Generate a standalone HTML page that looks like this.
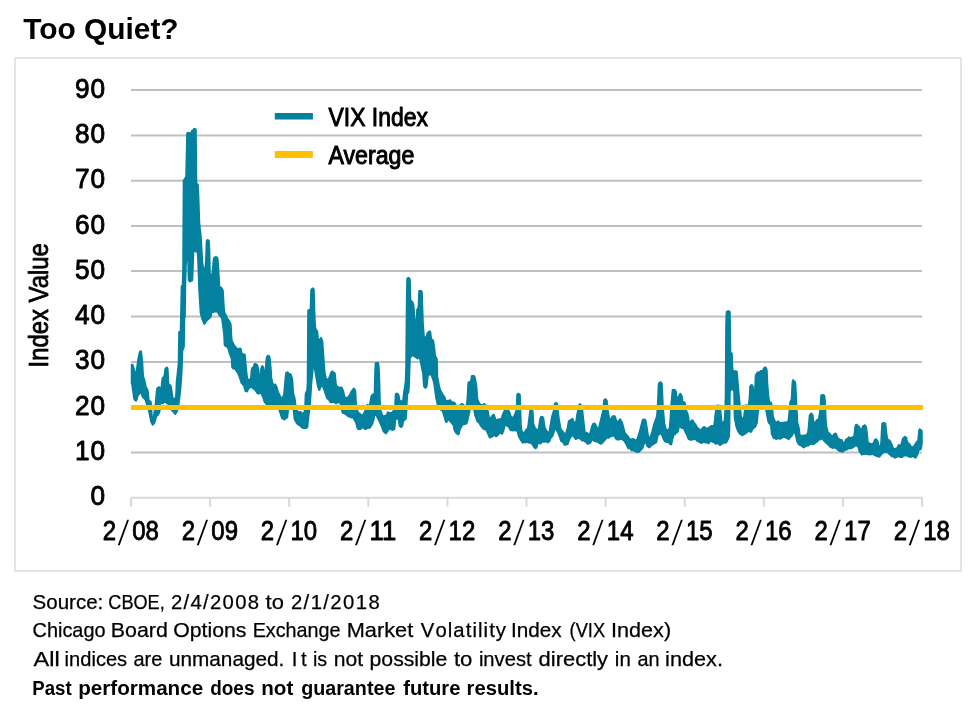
<!DOCTYPE html>
<html lang="en"><head><meta charset="utf-8"><title>Too Quiet?</title>
<style>html,body{margin:0;padding:0;background:#fff}body{width:975px;height:714px;overflow:hidden}</style></head>
<body>
<svg width="975" height="714" viewBox="0 0 975 714" style="display:block">
<rect width="975" height="714" fill="#fff"/>
<rect x="15" y="58" width="946" height="513" fill="#fff" stroke="#e4e4e4" stroke-width="2"/>
<line x1="131.0" x2="922" y1="452.5" y2="452.5" stroke="#bfbfbf" stroke-width="2"/>
<line x1="131.0" x2="922" y1="407.2" y2="407.2" stroke="#bfbfbf" stroke-width="2"/>
<line x1="131.0" x2="922" y1="361.9" y2="361.9" stroke="#bfbfbf" stroke-width="2"/>
<line x1="131.0" x2="922" y1="316.6" y2="316.6" stroke="#bfbfbf" stroke-width="2"/>
<line x1="131.0" x2="922" y1="271.0" y2="271.0" stroke="#bfbfbf" stroke-width="2"/>
<line x1="131.0" x2="922" y1="226.0" y2="226.0" stroke="#bfbfbf" stroke-width="2"/>
<line x1="131.0" x2="922" y1="180.7" y2="180.7" stroke="#bfbfbf" stroke-width="2"/>
<line x1="131.0" x2="922" y1="135.4" y2="135.4" stroke="#bfbfbf" stroke-width="2"/>
<line x1="131.0" x2="922" y1="90.0" y2="90.0" stroke="#bfbfbf" stroke-width="2"/>
<line x1="131.0" x2="922.6" y1="497.85" y2="497.85" stroke="#d9d9d9" stroke-width="2"/>
<line x1="131.0" x2="131.0" y1="497.85" y2="506.8" stroke="#d9d9d9" stroke-width="2"/>
<line x1="210.1" x2="210.1" y1="497.85" y2="506.8" stroke="#d9d9d9" stroke-width="2"/>
<line x1="289.2" x2="289.2" y1="497.85" y2="506.8" stroke="#d9d9d9" stroke-width="2"/>
<line x1="368.3" x2="368.3" y1="497.85" y2="506.8" stroke="#d9d9d9" stroke-width="2"/>
<line x1="447.4" x2="447.4" y1="497.85" y2="506.8" stroke="#d9d9d9" stroke-width="2"/>
<line x1="526.5" x2="526.5" y1="497.85" y2="506.8" stroke="#d9d9d9" stroke-width="2"/>
<line x1="605.6" x2="605.6" y1="497.85" y2="506.8" stroke="#d9d9d9" stroke-width="2"/>
<line x1="684.7" x2="684.7" y1="497.85" y2="506.8" stroke="#d9d9d9" stroke-width="2"/>
<line x1="763.8" x2="763.8" y1="497.85" y2="506.8" stroke="#d9d9d9" stroke-width="2"/>
<line x1="842.9" x2="842.9" y1="497.85" y2="506.8" stroke="#d9d9d9" stroke-width="2"/>
<line x1="922.0" x2="922.0" y1="497.85" y2="506.8" stroke="#d9d9d9" stroke-width="2"/>
<path d="M131.3,385.0 133.2,398.8 133.8,400.3 135.7,401.7 136.3,401.7 136.6,401.6 137.8,399.6 138.8,395.4 139.6,394.9 140.5,393.8 140.8,394.0 141.8,397.2 142.4,398.0 143.3,398.7 144.7,400.6 148.2,411.7 150.2,422.0 151.9,425.2 152.4,425.7 153.0,425.8 153.5,425.5 155.2,423.3 157.2,416.7 158.8,415.3 160.2,412.7 160.8,409.7 161.3,403.9 161.4,403.7 162.4,404.3 163.1,404.3 163.7,403.9 164.7,402.8 164.9,402.8 166.0,403.7 167.3,404.4 169.3,406.9 171.2,411.0 172.9,412.5 174.7,414.9 175.3,415.1 175.8,414.9 176.8,413.2 177.7,412.2 178.3,410.5 179.8,402.3 181.3,390.1 182.3,376.8 182.8,366.7 183.3,351.1 184.8,347.0 185.3,318.5 185.8,317.1 186.3,281.7 186.8,265.5 187.2,260.4 187.7,280.2 187.9,280.8 188.9,281.8 189.7,282.4 190.3,282.4 191.4,281.8 192.3,281.6 193.0,280.8 193.3,280.1 194.3,252.0 195.2,252.4 196.6,252.4 196.7,252.6 197.2,260.4 198.2,289.3 199.7,313.2 201.7,320.3 203.6,324.6 204.2,324.9 204.8,324.8 205.2,324.4 206.7,322.0 207.5,321.0 208.2,320.6 209.5,319.2 211.2,317.9 211.8,316.4 212.3,312.9 212.8,313.2 213.4,313.1 214.8,312.4 216.8,312.5 219.2,316.5 220.7,317.8 221.2,319.6 222.7,330.6 223.2,335.4 223.7,345.3 225.1,347.1 226.7,347.6 227.3,348.4 229.2,354.9 230.7,358.5 231.2,367.4 232.7,369.3 233.4,369.6 234.0,369.5 234.5,369.8 237.2,373.6 238.2,376.1 240.7,383.4 241.2,384.1 242.6,385.4 243.2,386.3 244.7,391.7 245.2,392.1 245.9,392.0 246.7,392.4 247.3,392.4 247.8,392.0 248.2,391.4 249.3,389.1 249.9,388.4 250.6,388.4 251.8,388.0 252.4,389.3 252.8,389.5 253.8,389.8 256.9,394.0 257.9,394.6 258.7,394.7 259.1,394.6 260.4,393.8 260.8,394.4 262.2,397.5 263.7,402.4 264.3,403.3 265.4,404.2 266.9,406.0 267.8,406.7 268.4,406.8 269.5,406.2 270.6,406.6 271.6,407.5 272.2,407.6 272.7,407.4 273.5,406.6 273.7,406.5 274.8,408.0 275.3,408.2 276.2,408.1 276.5,408.3 278.1,409.9 278.7,411.0 281.2,418.8 283.9,420.5 284.4,420.5 285.0,420.3 285.8,419.6 288.0,418.0 288.2,417.7 288.8,411.7 289.2,409.7 290.2,408.4 291.8,407.7 292.7,410.7 293.7,419.4 295.7,423.2 296.7,424.5 298.4,425.7 299.6,426.3 301.0,427.9 302.2,428.4 302.9,428.9 306.6,428.9 307.8,428.1 308.3,427.2 309.3,417.4 310.8,406.2 312.3,383.6 313.8,368.4 316.7,385.3 317.7,389.0 318.3,390.5 318.5,390.8 319.1,390.9 319.7,390.7 320.2,390.3 321.9,386.4 323.7,390.9 325.2,396.0 326.2,398.6 326.9,399.4 327.5,399.7 328.2,400.2 329.3,402.0 330.1,403.1 330.9,403.5 332.4,402.9 333.7,403.1 334.7,403.5 335.5,404.2 336.0,404.4 336.6,404.2 337.5,403.4 338.0,403.1 339.2,403.6 339.7,404.0 340.2,404.9 341.2,411.4 341.7,413.3 342.1,413.7 342.9,413.8 344.1,414.2 346.3,415.8 347.5,417.1 350.1,418.0 351.2,418.6 352.6,418.5 354.2,421.2 354.8,422.0 355.2,423.1 356.3,427.4 356.8,428.7 357.8,429.9 358.9,430.2 361.1,429.7 362.6,428.2 363.1,428.5 364.4,429.8 365.1,430.2 367.0,429.5 368.3,428.7 369.7,428.9 370.3,428.6 370.8,428.0 372.3,425.8 373.3,423.7 374.8,419.0 375.2,415.4 375.8,416.2 378.2,420.7 379.7,424.4 380.8,426.4 382.6,431.7 385.3,434.3 386.1,434.4 386.6,434.1 387.8,432.6 389.4,429.9 389.8,429.8 391.0,430.5 392.4,430.9 393.3,430.7 395.1,429.7 395.4,429.1 396.3,420.2 396.7,419.5 397.1,419.5 397.6,419.7 397.8,420.0 398.7,426.4 399.2,426.9 400.0,427.3 400.6,427.9 400.9,428.0 401.6,427.9 403.3,426.2 403.8,422.7 404.2,421.5 405.0,420.5 405.8,420.3 406.3,420.0 406.8,418.4 407.3,412.9 407.8,400.7 408.3,394.0 409.1,393.1 409.3,392.6 409.8,388.6 410.8,358.4 412.1,356.7 412.9,356.3 413.9,357.2 415.5,358.1 417.1,359.6 417.9,359.5 418.9,358.6 419.0,358.7 419.7,361.6 421.2,369.4 422.2,373.8 422.7,382.8 423.2,386.7 423.4,387.3 425.0,388.8 425.5,388.9 426.1,388.7 427.7,386.3 428.8,375.8 430.2,375.4 430.7,375.5 432.2,379.7 433.2,383.3 435.2,397.9 436.7,404.5 437.2,406.0 438.2,408.0 439.2,409.5 440.5,410.7 441.3,411.0 441.8,411.6 443.7,417.4 444.8,421.8 445.4,422.5 445.9,422.9 446.9,423.0 447.4,422.6 448.4,420.6 449.2,421.8 450.4,422.7 451.7,424.6 452.7,425.4 453.2,428.9 453.7,430.7 455.2,433.3 456.2,434.3 457.2,434.7 458.2,435.5 459.1,435.3 459.4,434.8 460.7,430.1 462.7,426.0 463.4,425.3 465.1,425.1 466.5,424.6 467.6,423.5 468.3,421.1 470.7,410.2 472.8,408.1 474.2,415.2 476.6,422.1 477.0,422.6 478.1,422.9 478.4,423.2 480.2,426.6 482.7,429.5 484.1,430.2 485.2,430.2 485.4,430.3 488.7,437.5 489.4,438.4 490.2,438.5 490.9,438.1 491.8,437.8 493.6,436.7 494.5,435.9 495.5,437.2 496.4,437.2 498.3,436.1 499.6,434.3 500.1,433.9 500.8,434.1 501.6,434.8 502.4,434.8 502.8,434.3 503.3,433.5 504.3,431.1 505.3,426.9 505.7,425.9 506.9,426.8 508.1,427.5 509.3,430.1 510.1,431.0 512.4,431.5 514.2,431.2 515.4,431.4 516.3,431.2 516.7,432.0 517.8,436.4 520.2,440.8 522.1,443.5 522.6,443.7 523.2,443.6 523.8,443.3 525.2,443.5 526.7,442.9 527.4,443.0 528.7,443.7 529.5,443.5 530.2,443.7 531.4,444.5 533.2,447.4 534.4,448.8 535.2,449.2 536.6,448.8 537.2,448.4 537.8,446.8 538.3,444.1 539.1,444.3 540.8,444.4 541.4,444.1 542.7,442.4 542.9,442.4 543.8,443.1 544.3,443.1 545.6,442.2 547.1,443.3 547.8,443.5 550.0,442.1 550.4,441.6 551.7,438.1 552.7,437.2 553.3,436.4 555.2,430.7 555.6,430.1 556.7,431.9 557.2,433.0 558.7,436.8 560.2,441.2 561.0,442.2 562.0,442.6 562.8,443.6 563.7,445.3 564.6,445.9 565.2,445.8 566.7,445.3 567.8,445.2 568.3,444.9 570.2,439.7 572.1,436.4 573.5,437.5 574.7,439.4 575.3,439.9 576.2,440.0 577.4,439.2 577.9,439.0 578.4,439.0 578.9,439.3 579.8,439.4 580.4,439.9 581.5,441.2 581.9,441.4 583.5,441.5 585.9,443.2 587.2,444.7 588.0,444.9 589.4,444.3 590.3,444.1 590.8,443.7 591.3,443.1 592.6,440.6 594.0,441.9 595.0,442.3 596.2,442.3 598.2,443.2 599.5,444.3 600.6,444.8 601.4,444.7 601.8,444.5 604.2,442.3 607.0,438.7 607.3,438.6 608.3,438.8 608.9,438.8 611.4,437.0 612.6,437.0 613.5,436.6 613.9,436.9 615.2,439.3 616.0,440.0 618.1,440.7 619.3,440.2 621.2,439.7 623.4,441.3 623.8,441.8 625.7,444.9 627.2,448.6 627.8,449.2 628.5,449.3 629.2,449.1 629.9,449.6 630.4,450.5 631.3,451.2 633.0,451.2 633.7,451.5 635.4,452.6 636.5,452.8 637.0,452.7 638.4,453.2 639.0,452.9 640.1,451.7 641.8,450.4 643.7,447.7 645.1,443.2 646.8,446.9 648.8,448.2 649.3,448.4 649.9,448.2 650.3,447.9 651.4,446.4 652.6,445.8 654.0,444.7 654.8,444.3 656.9,442.9 657.3,442.2 658.3,437.2 658.7,435.8 660.4,434.4 661.2,435.5 662.7,439.4 664.2,442.0 664.9,442.5 665.9,442.7 666.9,443.2 668.3,443.1 669.3,444.7 669.7,445.0 671.1,445.5 671.7,445.3 672.1,444.8 672.3,444.2 673.3,439.5 674.4,435.7 674.7,435.3 675.1,435.2 675.7,434.9 677.0,433.2 678.0,432.9 678.4,432.5 678.8,431.6 679.9,427.0 680.3,427.8 681.1,428.9 681.7,429.1 682.6,428.9 683.3,429.5 684.7,432.8 686.3,435.7 687.3,438.5 687.8,439.6 688.3,440.0 689.2,440.2 690.2,440.8 690.7,441.0 691.8,440.6 693.3,440.6 694.7,439.8 695.2,440.1 695.9,441.1 696.8,441.8 698.7,442.6 700.0,443.6 701.0,444.0 702.1,443.8 703.0,443.3 703.8,443.1 705.5,443.6 706.9,443.5 708.2,444.2 708.7,444.2 709.6,443.7 710.6,442.1 710.9,441.8 711.9,442.7 713.1,442.9 713.5,443.1 715.2,444.7 715.8,444.8 716.4,444.6 716.7,444.2 717.5,444.3 718.3,444.7 719.6,445.9 720.5,446.1 721.0,445.8 722.4,444.4 723.4,444.0 724.5,443.6 725.1,443.8 726.1,443.8 726.6,443.4 728.2,441.1 729.8,437.6 730.3,431.1 730.8,391.5 731.1,391.0 732.0,390.3 732.9,390.9 733.2,391.4 733.7,417.8 735.2,425.7 735.7,427.8 736.2,429.1 737.2,431.4 738.7,434.0 739.9,435.1 742.0,436.3 742.9,436.2 743.7,435.4 745.3,434.7 748.8,432.1 749.5,432.3 750.4,433.0 751.2,433.0 751.7,432.6 753.2,429.9 754.2,428.6 754.6,428.2 755.5,428.0 755.9,427.6 757.8,423.2 758.8,412.7 759.2,410.0 759.5,409.5 759.9,409.3 761.2,409.5 762.6,410.0 764.6,410.0 764.9,410.1 765.2,410.8 765.7,412.8 767.2,421.2 768.1,423.4 769.8,425.0 770.2,427.5 770.8,433.9 772.7,438.3 773.3,439.0 773.9,439.2 774.7,439.1 775.5,440.0 776.2,440.2 777.9,439.2 778.4,439.2 779.4,439.8 780.1,439.8 781.8,439.0 783.1,438.1 784.9,438.1 786.3,439.1 787.6,439.4 788.5,440.1 789.1,440.1 789.7,439.8 790.7,438.1 793.1,435.7 793.7,433.8 793.9,433.7 794.8,434.8 796.2,441.5 796.7,442.7 798.8,445.7 800.2,446.1 801.1,446.5 802.9,448.2 803.3,448.4 804.3,448.2 805.9,446.9 807.1,446.7 807.6,446.5 808.5,446.5 808.9,446.4 810.0,445.1 810.5,444.7 811.2,444.7 813.1,445.2 815.0,444.5 816.4,443.1 817.7,442.6 819.1,440.4 820.5,440.4 822.0,439.4 822.2,439.5 822.8,440.7 823.7,441.8 824.5,442.4 825.7,443.8 826.9,444.6 830.1,448.1 831.7,448.5 832.8,449.0 833.5,448.9 834.4,448.2 835.2,448.9 836.4,449.5 838.2,451.4 840.0,451.9 841.2,452.6 842.9,452.7 843.7,452.3 844.8,451.2 845.6,450.7 847.2,450.4 848.9,449.3 850.9,449.3 853.0,448.6 856.0,446.2 857.3,447.2 858.8,451.9 859.8,453.2 861.1,455.2 861.6,455.6 862.2,455.6 863.3,455.1 865.3,454.7 865.9,454.9 867.2,454.9 868.5,455.3 869.9,455.4 872.4,455.1 874.5,455.9 875.8,456.7 879.2,457.8 879.6,457.8 880.1,457.4 881.3,455.7 883.1,454.1 884.0,453.0 884.4,452.8 885.1,453.2 885.6,453.3 886.6,452.9 887.0,453.1 887.9,454.1 889.9,455.7 891.3,457.3 891.8,457.5 892.9,457.3 894.0,458.3 894.7,458.7 895.4,458.6 897.0,458.0 898.3,457.0 899.8,457.9 902.3,457.9 902.9,457.7 903.9,456.6 905.0,456.6 906.3,456.4 906.9,456.5 908.4,457.5 910.5,458.0 913.0,457.2 915.0,458.6 915.6,458.8 916.2,458.6 916.7,458.0 918.3,454.8 918.8,453.4 919.3,450.8 920.8,450.3 921.7,449.4 922.3,446.7 922.8,442.9 922.7,430.4 922.4,429.8 922.1,429.7 921.2,429.6 920.6,428.6 919.8,428.2 919.0,428.6 918.2,430.3 917.2,440.3 915.7,441.7 913.4,445.4 912.8,445.9 912.3,446.2 911.9,446.1 911.5,445.8 910.1,443.6 908.4,442.0 907.8,440.6 907.3,437.5 907.1,437.0 904.7,435.8 904.1,436.0 903.4,437.0 902.4,437.6 902.1,438.0 900.2,444.7 899.1,443.9 898.5,443.9 897.8,444.5 897.2,445.9 896.3,447.5 894.6,448.0 893.9,447.8 892.3,443.5 890.7,440.5 890.0,439.6 888.5,439.1 888.2,438.5 887.3,432.7 886.3,423.2 885.9,422.7 885.4,422.4 883.6,421.9 882.1,422.5 881.5,423.1 881.2,423.8 880.2,442.8 879.8,445.2 879.3,445.0 879.2,444.8 878.8,441.8 878.3,440.6 876.9,438.7 876.4,438.3 875.7,438.3 874.3,439.0 873.8,440.0 872.8,442.6 872.6,442.8 871.1,443.3 869.6,442.3 868.8,442.3 867.8,432.4 867.3,428.4 866.8,426.3 865.4,424.5 864.9,424.2 864.2,424.3 863.5,424.9 862.2,425.5 861.7,426.5 861.0,428.8 859.8,425.9 858.5,425.2 857.2,423.8 856.7,423.7 856.3,423.7 855.2,424.3 854.7,425.1 854.2,427.6 853.7,432.8 853.2,436.1 852.1,436.6 850.3,437.0 849.0,436.2 848.1,436.5 846.6,438.5 845.8,438.4 845.2,438.7 844.2,441.5 843.7,442.1 842.8,439.9 842.2,439.1 841.7,438.9 840.6,438.9 838.3,437.2 837.8,436.1 836.8,433.3 836.4,432.7 835.8,432.5 834.3,432.9 833.3,433.6 832.4,435.0 832.1,435.2 830.4,432.9 830.0,432.5 829.1,432.3 828.7,431.9 827.3,426.3 826.8,421.2 825.8,399.8 825.3,395.8 825.1,395.3 824.1,394.1 823.1,393.9 822.1,394.2 821.3,394.2 820.6,394.7 820.2,395.2 819.7,405.1 819.2,410.3 818.2,417.3 817.8,418.5 816.2,419.5 814.3,422.0 813.8,416.3 813.4,414.6 811.7,412.6 811.1,412.4 810.4,412.7 808.8,415.0 808.7,415.3 807.7,427.4 807.1,432.4 805.8,434.4 804.4,434.2 803.2,434.8 802.1,434.8 801.5,434.9 801.0,434.8 800.7,434.4 800.3,432.1 799.8,428.2 799.3,425.7 798.3,422.7 796.3,383.1 795.7,381.2 794.6,380.4 793.9,379.4 793.4,379.1 792.5,379.5 791.7,380.7 791.2,388.6 790.7,399.3 789.8,400.7 789.2,402.8 788.7,409.8 787.7,418.6 787.3,421.3 785.9,421.2 785.1,421.6 783.8,421.5 782.6,421.9 781.3,421.9 780.5,422.1 780.1,421.9 778.6,420.5 778.0,420.3 777.4,420.5 776.4,421.6 776.2,421.6 775.7,420.9 774.8,418.5 774.2,417.5 773.8,415.4 773.3,409.7 772.8,405.7 772.3,403.4 771.5,401.8 771.1,401.5 770.3,401.5 769.8,399.3 769.3,396.1 768.3,383.8 767.8,371.3 767.2,368.1 765.9,366.5 765.3,366.4 764.7,366.5 763.7,367.2 763.2,367.8 762.4,369.4 762.0,369.9 760.4,370.1 759.1,371.4 758.1,371.3 757.4,371.5 756.3,372.6 755.2,374.4 754.7,375.7 754.1,389.8 753.8,386.7 753.2,385.1 752.6,384.5 751.6,384.1 750.8,384.2 750.2,384.7 749.3,386.0 749.2,386.5 748.7,397.5 747.8,404.6 747.8,404.8 746.8,404.4 746.3,404.3 745.2,404.6 744.7,405.1 742.8,417.7 742.2,416.9 741.8,415.0 740.8,405.8 739.3,389.8 737.8,371.5 737.7,371.1 737.2,370.7 736.1,370.5 735.3,370.1 734.5,370.2 733.7,370.6 733.7,370.5 733.3,367.0 732.8,353.6 732.7,353.1 731.5,352.1 731.3,351.7 730.8,312.0 730.6,311.4 729.8,310.6 729.2,310.3 728.2,310.2 726.4,310.8 725.9,311.2 725.7,311.8 725.2,322.9 724.7,396.6 724.2,411.9 723.7,420.3 722.7,421.9 722.3,419.8 721.3,409.9 720.7,406.4 720.2,405.3 718.8,404.4 717.5,404.4 716.6,404.6 716.1,405.0 715.7,406.5 714.7,412.5 713.7,421.7 713.2,424.7 712.9,424.9 710.9,425.0 710.6,425.2 709.1,426.6 707.6,427.2 706.9,427.7 706.0,427.3 705.1,426.2 704.2,426.0 702.5,426.8 701.0,428.8 700.7,429.1 700.2,429.1 698.6,427.4 697.6,426.5 696.2,423.7 694.6,422.2 693.5,419.8 693.1,419.4 692.6,419.2 691.8,419.4 690.7,420.2 689.9,421.2 689.8,421.1 688.8,414.7 688.3,412.9 687.3,410.7 686.8,409.0 686.3,404.7 685.3,401.8 685.0,401.5 683.3,400.9 682.8,396.6 682.2,394.7 681.0,393.0 680.5,392.7 679.9,392.7 679.3,393.3 677.6,397.0 676.8,391.0 676.6,390.5 674.7,388.8 672.4,388.9 671.9,389.2 671.7,389.7 671.2,394.4 670.2,406.2 669.7,415.7 668.7,427.8 668.3,428.4 667.1,429.5 666.3,427.3 665.3,423.8 663.8,406.2 662.8,383.4 662.6,382.9 661.2,381.5 660.6,381.2 660.3,381.2 658.3,382.5 657.7,384.7 656.7,407.8 656.2,413.8 655.7,417.0 653.2,423.7 650.7,433.8 649.2,437.1 646.7,421.0 646.3,420.0 645.6,419.1 644.5,418.6 643.7,418.8 643.0,418.6 642.2,419.0 641.7,420.0 638.7,431.7 637.7,435.1 636.2,439.3 636.1,439.4 635.4,438.9 633.2,438.0 632.3,438.1 631.0,438.6 630.0,438.0 628.7,436.0 625.7,432.5 622.8,421.7 621.8,420.4 620.8,418.5 620.2,418.2 619.6,418.3 618.2,420.2 617.7,420.5 617.2,420.7 616.3,417.4 615.7,416.0 614.8,415.2 613.5,414.9 612.4,415.4 611.9,415.8 610.2,418.6 608.8,411.3 607.8,400.7 607.6,400.1 606.1,398.4 605.5,398.1 605.2,398.1 604.6,398.4 603.5,399.5 603.2,400.1 602.2,410.3 598.0,427.7 598.0,427.8 596.7,424.9 595.1,422.5 594.8,422.4 594.2,422.4 592.7,423.1 592.2,423.7 591.2,425.8 589.1,433.5 587.3,431.9 586.8,431.8 585.8,431.8 585.7,431.7 585.3,429.1 583.3,410.3 582.8,407.3 582.3,405.0 581.3,404.2 580.5,403.2 580.0,403.1 579.2,403.4 578.4,404.1 578.2,404.7 577.2,410.1 576.2,414.4 575.3,421.0 575.1,421.4 574.8,421.4 574.4,420.9 573.2,418.1 572.7,417.8 572.1,417.8 571.1,418.7 568.5,420.1 568.2,420.6 567.7,422.1 566.7,427.5 565.3,432.4 565.0,432.7 564.3,432.2 562.8,429.9 561.7,429.0 561.3,427.5 559.8,418.9 557.8,403.2 557.2,402.2 556.2,401.9 555.7,402.0 555.2,402.3 554.0,403.5 553.7,404.1 553.2,408.7 552.7,411.3 551.2,416.0 550.7,418.4 548.7,430.4 548.3,431.7 547.2,430.3 545.8,427.8 545.3,425.4 544.3,418.1 543.7,416.8 542.8,415.9 540.9,415.8 540.3,416.2 540.1,416.5 539.2,419.1 537.7,429.3 536.1,427.8 535.7,427.2 534.3,423.7 533.8,413.4 533.3,409.9 532.8,409.2 531.8,409.0 529.9,409.3 529.5,409.7 529.2,410.4 527.2,426.5 526.8,428.0 525.7,429.0 524.2,431.2 523.2,431.9 522.3,429.5 521.8,424.9 520.8,394.7 520.6,394.1 518.8,392.7 518.5,392.6 517.9,392.8 516.5,394.0 516.2,394.4 515.7,409.5 514.2,413.8 513.1,416.2 512.6,416.5 512.1,416.5 511.7,416.0 510.3,412.0 509.8,410.8 509.4,410.2 507.9,409.3 505.9,408.9 505.4,409.0 503.6,410.4 501.7,414.8 500.8,418.1 499.3,418.2 496.6,419.1 496.2,418.6 494.8,414.5 494.4,414.0 493.9,413.6 493.1,413.8 492.4,414.5 491.4,415.2 490.2,417.2 490.0,417.4 489.9,417.3 488.3,408.6 487.1,405.2 486.6,404.9 485.9,404.6 485.2,403.5 484.7,403.1 484.3,403.0 483.7,403.2 482.7,404.3 480.9,403.8 480.2,403.2 478.3,398.9 477.3,385.6 475.8,377.6 475.2,376.0 474.0,374.7 473.3,374.7 472.7,374.9 471.7,374.9 471.1,375.3 470.7,376.9 470.2,380.0 469.9,380.9 469.8,381.1 468.1,381.4 467.6,382.1 467.2,385.2 466.7,396.0 466.2,402.1 465.8,404.5 465.2,405.4 465.0,405.5 464.9,405.4 463.7,403.8 461.8,403.0 461.5,403.0 460.9,403.3 459.8,404.5 459.2,404.9 458.0,406.4 457.1,405.6 455.3,402.2 454.8,401.9 452.3,401.2 450.5,399.2 449.8,399.1 448.5,400.0 447.5,399.8 446.6,400.2 446.4,400.1 445.3,396.5 443.2,393.7 440.8,389.0 440.3,387.1 438.3,377.0 437.8,359.1 437.3,357.7 436.2,355.9 435.8,354.0 435.3,348.3 434.3,341.4 433.8,339.7 432.5,338.9 432.2,338.5 431.8,336.6 431.3,331.9 430.8,330.9 430.3,330.5 429.6,330.3 428.4,331.0 427.8,331.8 427.1,332.1 426.7,332.5 425.8,335.8 425.5,336.2 425.1,336.5 424.8,335.7 423.8,322.3 422.8,291.4 421.8,290.2 420.6,289.8 419.1,290.0 418.6,290.3 418.2,290.7 417.7,305.1 417.3,308.1 416.4,308.8 416.2,309.4 415.7,318.1 415.3,319.1 414.8,309.1 414.3,304.3 413.2,301.5 412.1,300.5 411.3,299.4 410.8,279.0 410.6,278.4 409.8,277.6 408.8,276.9 408.2,276.7 407.7,276.9 407.2,277.3 406.4,278.4 406.2,279.0 405.7,313.1 405.2,367.5 404.7,381.7 403.2,391.5 402.2,399.8 401.9,400.6 401.1,400.0 400.3,399.7 399.8,396.3 399.3,394.3 398.8,393.5 397.2,392.6 396.6,392.6 395.3,393.3 394.9,393.9 394.7,394.4 394.2,405.8 393.7,408.5 393.2,410.1 391.6,411.7 390.3,411.9 389.5,412.2 388.4,411.3 387.8,411.2 387.4,411.3 387.0,411.8 386.2,413.7 385.5,414.7 385.0,415.1 384.3,415.0 383.2,415.3 381.3,409.5 380.8,400.5 380.3,381.4 379.8,368.9 379.2,363.1 378.7,362.4 377.9,361.8 377.5,361.8 376.7,362.1 375.6,362.1 374.9,362.6 374.7,363.1 374.2,371.6 373.7,393.1 372.8,393.4 371.9,393.9 370.8,395.2 370.2,397.3 369.1,404.3 369.0,404.5 368.0,403.9 367.3,403.9 365.7,404.9 364.2,411.0 362.8,413.6 362.2,414.2 361.5,414.1 360.4,412.9 359.4,412.5 357.7,409.6 357.3,407.4 356.8,401.5 356.3,390.8 355.8,389.6 354.6,387.9 354.0,387.6 353.4,387.6 353.1,387.8 352.0,389.5 351.1,390.2 349.7,393.3 348.3,395.4 347.7,396.5 345.7,397.1 345.3,395.9 344.2,390.9 342.4,386.8 341.6,386.4 340.2,386.8 339.3,386.6 338.1,386.1 337.2,385.4 336.8,383.6 335.8,373.8 335.4,372.6 335.1,372.1 334.4,371.9 332.8,370.5 332.2,370.5 331.2,371.0 330.2,372.2 328.2,378.0 327.7,378.4 327.3,378.5 327.1,378.3 326.7,377.7 325.8,373.6 325.3,368.8 323.3,340.8 321.9,337.6 321.5,337.1 320.9,336.9 320.4,337.2 319.2,338.9 318.8,337.7 318.3,331.7 317.3,329.5 316.3,328.2 315.8,321.8 315.3,309.1 314.8,289.5 314.6,289.0 313.9,288.0 313.4,287.6 312.5,287.4 311.9,287.7 310.8,288.7 310.2,289.9 309.7,308.5 309.5,308.9 307.7,309.6 307.4,310.0 307.2,310.6 306.7,382.2 306.2,390.5 305.2,392.1 304.7,393.5 304.2,407.0 303.7,410.9 302.9,412.4 302.5,412.7 301.3,411.3 300.6,410.9 300.1,410.9 298.8,411.3 298.4,411.1 297.3,409.7 296.8,408.0 295.8,399.5 295.3,397.0 294.3,394.0 293.8,389.2 293.3,380.0 292.8,377.5 291.7,374.4 290.7,373.3 289.4,372.9 288.2,371.5 287.6,371.2 286.2,371.7 285.2,372.5 284.7,376.8 283.2,393.3 282.6,395.8 282.2,396.4 281.6,397.0 278.8,391.4 277.7,387.3 276.3,384.3 275.8,383.6 275.2,383.4 274.2,383.8 273.8,383.7 273.3,382.3 272.3,378.3 271.8,369.7 270.8,358.8 270.2,355.9 269.5,355.2 268.3,354.7 267.7,354.7 267.2,355.1 265.8,357.2 265.2,362.3 264.8,370.5 264.3,367.0 263.1,365.4 262.5,365.1 262.0,365.2 261.5,365.5 260.7,366.8 260.2,369.0 259.7,374.5 259.3,369.0 257.9,364.3 257.5,363.9 255.7,363.0 255.1,363.0 254.0,363.3 253.6,363.8 252.7,366.4 252.4,366.9 251.9,367.0 251.5,367.5 250.7,369.4 250.2,376.0 249.8,378.5 249.7,378.6 248.8,379.1 248.6,379.0 248.3,378.0 247.8,375.4 247.3,371.3 245.7,354.4 245.5,354.1 244.7,353.6 242.9,353.2 242.6,352.9 242.3,352.0 241.8,348.8 241.1,348.0 240.4,347.6 239.8,347.5 238.6,348.1 237.9,348.2 235.8,346.0 234.8,344.6 232.8,340.8 232.3,336.5 231.7,324.3 230.3,320.9 228.7,318.8 227.8,317.4 226.3,314.0 225.3,312.2 224.8,307.2 223.8,290.3 222.1,287.2 221.6,286.7 220.6,286.5 220.3,286.1 218.8,260.9 218.3,257.6 216.8,256.2 216.3,255.9 215.8,256.0 213.8,256.8 212.8,258.5 211.7,271.6 211.3,274.1 210.9,273.4 210.8,272.9 210.3,249.0 209.8,240.8 209.5,240.1 207.9,238.9 207.3,238.9 206.9,239.2 205.9,240.7 205.7,241.2 205.2,256.1 204.7,265.3 204.1,267.9 203.3,262.6 201.8,236.8 200.3,223.6 199.3,193.9 198.8,184.8 198.3,183.8 197.5,183.0 197.3,182.7 196.8,129.4 196.4,128.6 194.2,127.7 193.7,127.9 192.4,129.4 191.3,130.1 190.1,132.6 188.7,131.8 188.0,131.7 186.7,132.4 186.2,133.0 185.2,176.2 184.8,177.2 183.3,179.3 182.7,180.7 182.2,269.3 181.7,284.9 181.7,285.1 180.9,285.5 180.7,286.1 179.7,330.4 179.6,330.7 178.4,331.4 178.2,332.0 177.7,363.4 175.7,381.9 175.2,395.1 174.8,397.5 174.4,397.8 173.8,397.9 173.7,397.7 173.3,395.9 172.3,389.1 171.4,385.1 171.0,384.5 169.8,383.9 169.3,383.2 168.8,372.1 168.3,367.5 167.6,367.0 166.8,366.6 166.2,366.7 164.9,367.8 164.3,369.0 163.7,373.9 163.3,376.2 163.0,376.5 162.2,376.9 161.7,377.7 161.2,380.2 160.7,385.5 160.4,387.4 159.5,386.2 158.7,386.1 157.7,387.0 156.6,387.5 156.2,388.3 155.7,391.9 154.7,403.6 152.8,416.4 151.8,401.9 151.2,400.7 150.6,400.4 150.0,400.3 149.7,400.0 149.3,396.9 148.8,391.6 148.3,389.3 146.7,386.5 145.3,379.6 144.3,377.1 143.8,372.6 143.3,362.9 142.3,353.0 141.9,350.8 141.2,350.3 140.2,350.4 139.5,350.8 139.1,351.3 138.7,352.5 137.2,359.4 135.7,370.7 135.5,371.4 133.8,365.3 133.3,364.4 132.8,363.9 132.0,363.5 131.2,363.9 130.8,364.6 130.7,383.8Z" fill="#04819e" fill-rule="evenodd"/>
<line x1="131" x2="923" y1="407.5" y2="407.5" stroke="#ffc000" stroke-width="5.2"/>
<line x1="274.8" x2="312.9" y1="116.3" y2="116.3" stroke="#04819e" stroke-width="6.6"/>
<line x1="274.8" x2="312.9" y1="154.45" y2="154.45" stroke="#ffc000" stroke-width="6.9"/>
<text y="505.40" font-family="Liberation Sans, sans-serif" font-size="28.5" fill="#000" stroke="#000" stroke-width="0.9" stroke-linejoin="round"><tspan x="90.60" textLength="14.6" lengthAdjust="spacingAndGlyphs">0</tspan></text>
<text y="460.09" font-family="Liberation Sans, sans-serif" font-size="28.5" fill="#000" stroke="#000" stroke-width="0.9" stroke-linejoin="round"><tspan x="75.10" textLength="14.6" lengthAdjust="spacingAndGlyphs">1</tspan><tspan x="90.60" textLength="14.6" lengthAdjust="spacingAndGlyphs">0</tspan></text>
<text y="414.78" font-family="Liberation Sans, sans-serif" font-size="28.5" fill="#000" stroke="#000" stroke-width="0.9" stroke-linejoin="round"><tspan x="75.10" textLength="14.6" lengthAdjust="spacingAndGlyphs">2</tspan><tspan x="90.60" textLength="14.6" lengthAdjust="spacingAndGlyphs">0</tspan></text>
<text y="369.47" font-family="Liberation Sans, sans-serif" font-size="28.5" fill="#000" stroke="#000" stroke-width="0.9" stroke-linejoin="round"><tspan x="75.10" textLength="14.6" lengthAdjust="spacingAndGlyphs">3</tspan><tspan x="90.60" textLength="14.6" lengthAdjust="spacingAndGlyphs">0</tspan></text>
<text y="324.16" font-family="Liberation Sans, sans-serif" font-size="28.5" fill="#000" stroke="#000" stroke-width="0.9" stroke-linejoin="round"><tspan x="75.10" textLength="14.6" lengthAdjust="spacingAndGlyphs">4</tspan><tspan x="90.60" textLength="14.6" lengthAdjust="spacingAndGlyphs">0</tspan></text>
<text y="278.55" font-family="Liberation Sans, sans-serif" font-size="28.5" fill="#000" stroke="#000" stroke-width="0.9" stroke-linejoin="round"><tspan x="75.10" textLength="14.6" lengthAdjust="spacingAndGlyphs">5</tspan><tspan x="90.60" textLength="14.6" lengthAdjust="spacingAndGlyphs">0</tspan></text>
<text y="233.54" font-family="Liberation Sans, sans-serif" font-size="28.5" fill="#000" stroke="#000" stroke-width="0.9" stroke-linejoin="round"><tspan x="75.10" textLength="14.6" lengthAdjust="spacingAndGlyphs">6</tspan><tspan x="90.60" textLength="14.6" lengthAdjust="spacingAndGlyphs">0</tspan></text>
<text y="188.23" font-family="Liberation Sans, sans-serif" font-size="28.5" fill="#000" stroke="#000" stroke-width="0.9" stroke-linejoin="round"><tspan x="75.10" textLength="14.6" lengthAdjust="spacingAndGlyphs">7</tspan><tspan x="90.60" textLength="14.6" lengthAdjust="spacingAndGlyphs">0</tspan></text>
<text y="142.92" font-family="Liberation Sans, sans-serif" font-size="28.5" fill="#000" stroke="#000" stroke-width="0.9" stroke-linejoin="round"><tspan x="75.10" textLength="14.6" lengthAdjust="spacingAndGlyphs">8</tspan><tspan x="90.60" textLength="14.6" lengthAdjust="spacingAndGlyphs">0</tspan></text>
<text y="97.55" font-family="Liberation Sans, sans-serif" font-size="28.5" fill="#000" stroke="#000" stroke-width="0.9" stroke-linejoin="round"><tspan x="75.10" textLength="14.6" lengthAdjust="spacingAndGlyphs">9</tspan><tspan x="90.60" textLength="14.6" lengthAdjust="spacingAndGlyphs">0</tspan></text>
<text y="539.85" font-family="Liberation Sans, sans-serif" font-size="28.5" fill="#000" stroke="#000" stroke-width="0.9" stroke-linejoin="round"><tspan x="102.65" textLength="13.3" lengthAdjust="spacingAndGlyphs">2</tspan><tspan x="116.45" dy="6.2" font-size="36.8" stroke="#fff" stroke-width="1.3" textLength="13.8" lengthAdjust="spacingAndGlyphs">/</tspan><tspan x="132.20" dy="-6.2" textLength="26.7" lengthAdjust="spacingAndGlyphs">08</tspan></text>
<text y="539.85" font-family="Liberation Sans, sans-serif" font-size="28.5" fill="#000" stroke="#000" stroke-width="0.9" stroke-linejoin="round"><tspan x="181.75" textLength="13.3" lengthAdjust="spacingAndGlyphs">2</tspan><tspan x="195.55" dy="6.2" font-size="36.8" stroke="#fff" stroke-width="1.3" textLength="13.8" lengthAdjust="spacingAndGlyphs">/</tspan><tspan x="211.30" dy="-6.2" textLength="26.7" lengthAdjust="spacingAndGlyphs">09</tspan></text>
<text y="539.85" font-family="Liberation Sans, sans-serif" font-size="28.5" fill="#000" stroke="#000" stroke-width="0.9" stroke-linejoin="round"><tspan x="260.85" textLength="13.3" lengthAdjust="spacingAndGlyphs">2</tspan><tspan x="274.65" dy="6.2" font-size="36.8" stroke="#fff" stroke-width="1.3" textLength="13.8" lengthAdjust="spacingAndGlyphs">/</tspan><tspan x="290.40" dy="-6.2" textLength="26.7" lengthAdjust="spacingAndGlyphs">10</tspan></text>
<text y="539.85" font-family="Liberation Sans, sans-serif" font-size="28.5" fill="#000" stroke="#000" stroke-width="0.9" stroke-linejoin="round"><tspan x="339.95" textLength="13.3" lengthAdjust="spacingAndGlyphs">2</tspan><tspan x="353.75" dy="6.2" font-size="36.8" stroke="#fff" stroke-width="1.3" textLength="13.8" lengthAdjust="spacingAndGlyphs">/</tspan><tspan x="369.50" dy="-6.2" textLength="26.7" lengthAdjust="spacingAndGlyphs">11</tspan></text>
<text y="539.85" font-family="Liberation Sans, sans-serif" font-size="28.5" fill="#000" stroke="#000" stroke-width="0.9" stroke-linejoin="round"><tspan x="419.05" textLength="13.3" lengthAdjust="spacingAndGlyphs">2</tspan><tspan x="432.85" dy="6.2" font-size="36.8" stroke="#fff" stroke-width="1.3" textLength="13.8" lengthAdjust="spacingAndGlyphs">/</tspan><tspan x="448.60" dy="-6.2" textLength="26.7" lengthAdjust="spacingAndGlyphs">12</tspan></text>
<text y="539.85" font-family="Liberation Sans, sans-serif" font-size="28.5" fill="#000" stroke="#000" stroke-width="0.9" stroke-linejoin="round"><tspan x="498.15" textLength="13.3" lengthAdjust="spacingAndGlyphs">2</tspan><tspan x="511.95" dy="6.2" font-size="36.8" stroke="#fff" stroke-width="1.3" textLength="13.8" lengthAdjust="spacingAndGlyphs">/</tspan><tspan x="527.70" dy="-6.2" textLength="26.7" lengthAdjust="spacingAndGlyphs">13</tspan></text>
<text y="539.85" font-family="Liberation Sans, sans-serif" font-size="28.5" fill="#000" stroke="#000" stroke-width="0.9" stroke-linejoin="round"><tspan x="577.25" textLength="13.3" lengthAdjust="spacingAndGlyphs">2</tspan><tspan x="591.05" dy="6.2" font-size="36.8" stroke="#fff" stroke-width="1.3" textLength="13.8" lengthAdjust="spacingAndGlyphs">/</tspan><tspan x="606.80" dy="-6.2" textLength="26.7" lengthAdjust="spacingAndGlyphs">14</tspan></text>
<text y="539.85" font-family="Liberation Sans, sans-serif" font-size="28.5" fill="#000" stroke="#000" stroke-width="0.9" stroke-linejoin="round"><tspan x="656.35" textLength="13.3" lengthAdjust="spacingAndGlyphs">2</tspan><tspan x="670.15" dy="6.2" font-size="36.8" stroke="#fff" stroke-width="1.3" textLength="13.8" lengthAdjust="spacingAndGlyphs">/</tspan><tspan x="685.90" dy="-6.2" textLength="26.7" lengthAdjust="spacingAndGlyphs">15</tspan></text>
<text y="539.85" font-family="Liberation Sans, sans-serif" font-size="28.5" fill="#000" stroke="#000" stroke-width="0.9" stroke-linejoin="round"><tspan x="735.45" textLength="13.3" lengthAdjust="spacingAndGlyphs">2</tspan><tspan x="749.25" dy="6.2" font-size="36.8" stroke="#fff" stroke-width="1.3" textLength="13.8" lengthAdjust="spacingAndGlyphs">/</tspan><tspan x="765.00" dy="-6.2" textLength="26.7" lengthAdjust="spacingAndGlyphs">16</tspan></text>
<text y="539.85" font-family="Liberation Sans, sans-serif" font-size="28.5" fill="#000" stroke="#000" stroke-width="0.9" stroke-linejoin="round"><tspan x="814.55" textLength="13.3" lengthAdjust="spacingAndGlyphs">2</tspan><tspan x="828.35" dy="6.2" font-size="36.8" stroke="#fff" stroke-width="1.3" textLength="13.8" lengthAdjust="spacingAndGlyphs">/</tspan><tspan x="844.10" dy="-6.2" textLength="26.7" lengthAdjust="spacingAndGlyphs">17</tspan></text>
<text y="539.85" font-family="Liberation Sans, sans-serif" font-size="28.5" fill="#000" stroke="#000" stroke-width="0.9" stroke-linejoin="round"><tspan x="893.65" textLength="13.3" lengthAdjust="spacingAndGlyphs">2</tspan><tspan x="907.45" dy="6.2" font-size="36.8" stroke="#fff" stroke-width="1.3" textLength="13.8" lengthAdjust="spacingAndGlyphs">/</tspan><tspan x="923.20" dy="-6.2" textLength="26.7" lengthAdjust="spacingAndGlyphs">18</tspan></text>
<text x="328.49" y="126.00" font-family="Liberation Sans, sans-serif" font-size="26.3" textLength="99.39" lengthAdjust="spacingAndGlyphs" fill="#000" stroke="#000" stroke-width="1.0" stroke-linejoin="round">VIX Index</text>
<text x="328.50" y="164.40" font-family="Liberation Sans, sans-serif" font-size="26.3" textLength="85.89" lengthAdjust="spacingAndGlyphs" fill="#000" stroke="#000" stroke-width="1.0" stroke-linejoin="round">Average</text>
<text x="23.18" y="39.40" font-family="Liberation Sans, sans-serif" font-weight="bold" font-size="29.4" textLength="155.44" lengthAdjust="spacingAndGlyphs" fill="#000">Too Quiet?</text>
<text y="608.7" font-family="Liberation Sans, sans-serif" font-size="20.3" fill="#000" stroke="#000" stroke-width="0.25"><tspan x="32.62" textLength="70.71" lengthAdjust="spacingAndGlyphs">Source:</tspan> <tspan x="108.33" textLength="56.35" lengthAdjust="spacingAndGlyphs">CBOE,</tspan> <tspan x="170.93 183.51 190.44 203.03 209.96 222.54 235.13 247.71">2/4/2008</tspan> <tspan x="265.62" textLength="18.36" lengthAdjust="spacingAndGlyphs">to</tspan> <tspan x="290.93 303.61 310.64 323.33 330.36 343.04 355.73 368.41">2/1/2018</tspan></text>
<text y="637.4" font-family="Liberation Sans, sans-serif" font-size="20.3" fill="#000" stroke="#000" stroke-width="0.25"><tspan x="32.54" textLength="73.05" lengthAdjust="spacingAndGlyphs">Chicago</tspan> <tspan x="110.8" textLength="57.03" lengthAdjust="spacingAndGlyphs">Board</tspan> <tspan x="173.24" textLength="73.28" lengthAdjust="spacingAndGlyphs">Options</tspan> <tspan x="252.63" textLength="88.0" lengthAdjust="spacingAndGlyphs">Exchange</tspan> <tspan x="346.76" textLength="66.44" lengthAdjust="spacingAndGlyphs">Market</tspan> <tspan x="420.86 435.46 447.81 453.37 465.72 472.42 477.99 483.56 489.13 495.82">Volatility</tspan> <tspan x="511.04" textLength="50.63" lengthAdjust="spacingAndGlyphs">Index</tspan> <tspan x="569.62" textLength="35.52" lengthAdjust="spacingAndGlyphs">(VIX</tspan> <tspan x="611.05" textLength="60.04" lengthAdjust="spacingAndGlyphs">Index)</tspan></text>
<text y="666.2" font-family="Liberation Sans, sans-serif" font-size="20.3" fill="#000" stroke="#000" stroke-width="0.25"><tspan x="33.5" textLength="26.12" lengthAdjust="spacingAndGlyphs">All</tspan> <tspan x="64.6" textLength="62.57" lengthAdjust="spacingAndGlyphs">indices</tspan> <tspan x="133.4" textLength="28.94" lengthAdjust="spacingAndGlyphs">are</tspan> <tspan x="168.9" textLength="115.45" lengthAdjust="spacingAndGlyphs">unmanaged.</tspan> <tspan x="291.68 300.96">It</tspan> <tspan x="312.93" textLength="14.23" lengthAdjust="spacingAndGlyphs">is</tspan> <tspan x="333.85" textLength="29.36" lengthAdjust="spacingAndGlyphs">not</tspan> <tspan x="369.58" textLength="77.81" lengthAdjust="spacingAndGlyphs">possible</tspan> <tspan x="453.91" textLength="18.47" lengthAdjust="spacingAndGlyphs">to</tspan> <tspan x="478.9" textLength="52.7" lengthAdjust="spacingAndGlyphs">invest</tspan> <tspan x="538.63" textLength="69.46" lengthAdjust="spacingAndGlyphs">directly</tspan> <tspan x="614.87" textLength="16.01" lengthAdjust="spacingAndGlyphs">in</tspan> <tspan x="637.4" textLength="22.14" lengthAdjust="spacingAndGlyphs">an</tspan> <tspan x="665.1" textLength="57.83" lengthAdjust="spacingAndGlyphs">index.</tspan></text>
<text y="694.9" font-family="Liberation Sans, sans-serif" font-weight="bold" font-size="20.3" fill="#000"><tspan x="32.3" textLength="39.38" lengthAdjust="spacingAndGlyphs">Past</tspan> <tspan x="78.19" textLength="124.97" lengthAdjust="spacingAndGlyphs">performance</tspan> <tspan x="210.17" textLength="44.36" lengthAdjust="spacingAndGlyphs">does</tspan> <tspan x="261.19" textLength="32.12" lengthAdjust="spacingAndGlyphs">not</tspan> <tspan x="301.14" textLength="94.28" lengthAdjust="spacingAndGlyphs">guarantee</tspan> <tspan x="403.2" textLength="57.24" lengthAdjust="spacingAndGlyphs">future</tspan> <tspan x="466.61" textLength="72.03" lengthAdjust="spacingAndGlyphs">results.</tspan></text>
<text transform="translate(48.4,367.5) rotate(-90)" font-family="Liberation Sans, sans-serif" font-size="27.2" textLength="124.3" lengthAdjust="spacingAndGlyphs" fill="#000" stroke="#000" stroke-width="0.8" stroke-linejoin="round">Index Value</text>
</svg>
</body></html>
